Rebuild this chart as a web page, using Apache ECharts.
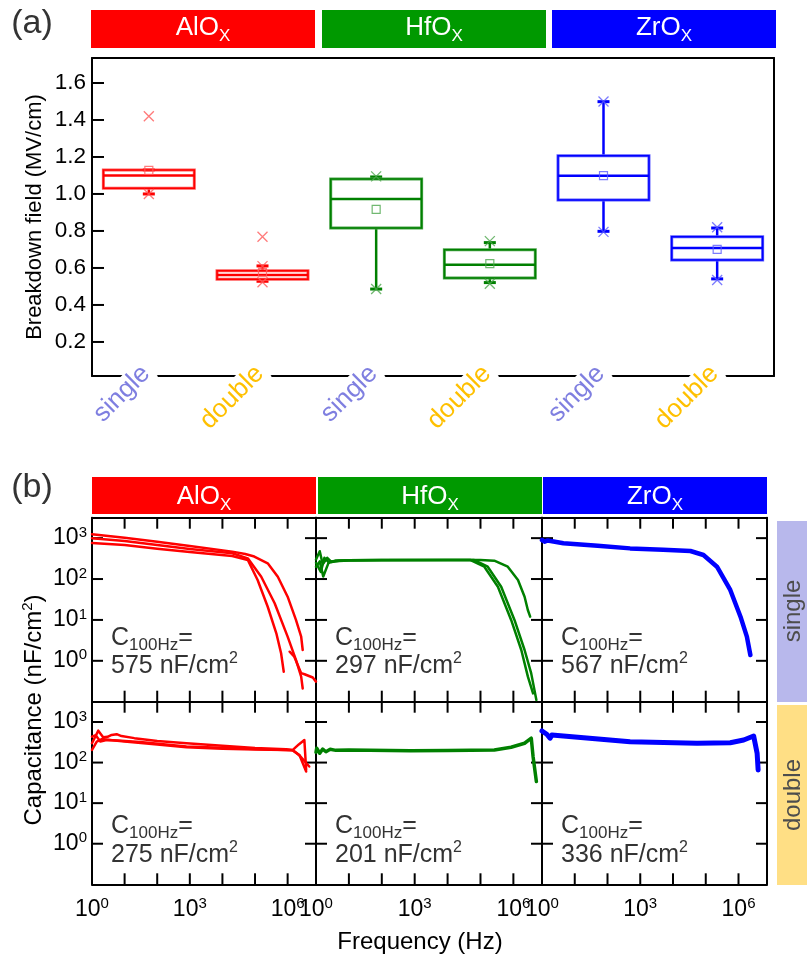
<!DOCTYPE html>
<html><head><meta charset="utf-8">
<script src="https://cdn.jsdelivr.net/npm/echarts@6/dist/echarts.min.js"></script>
<style>html,body{margin:0;padding:0;background:#fff}#c{width:807px;height:957px}</style>
</head><body><div id="c"></div>
<script>
// ---------- Panel (a) data ----------
const categories = ['single', 'double', 'single', 'double', 'single', 'double'];
const boxMin    = [1.000, 0.528, 0.486, 0.521, 0.798, 0.541];
const boxQ1     = [1.031, 0.539, 0.816, 0.546, 0.968, 0.643];
const boxMedian = [1.100, 0.562, 0.973, 0.618, 1.099, 0.708];
const boxQ3     = [1.130, 0.585, 1.081, 0.699, 1.207, 0.769];
const boxMax    = [1.130, 0.611, 1.092, 0.737, 1.499, 0.816];
const boxMean   = [1.128, 0.578, 0.917, 0.623, 1.099, 0.701];
const extremeCat = [0, 0, 1, 1, 1, 2, 2, 3, 3, 4, 4, 5, 5];
const extremeVal = [1.42, 1.00, 0.769, 0.523, 0.61, 1.095, 0.486, 0.745, 0.515, 1.50, 0.795, 0.82, 0.535];
const fieldTicks = [0.2, 0.4, 0.6, 0.8, 1.0, 1.2, 1.4, 1.6];
const materials = ['AlO', 'HfO', 'ZrO'];
const c100Hz = ['575', '297', '567', '275', '201', '336'];

// ---------- Panel (b) data (frequency Hz, capacitance nF/cm2) ----------
const freqTicks = [10, 100, 1e3, 1e4, 1e5, 1e6];
const capTicks = [1, 10, 100, 1000];

const fAlS1 = [1, 10, 100, 1000, 2e4, 5e4, 9.5e4, 2.45e5, 5e5, 1e6, 1.8e6, 2.6e6, 2.9e6];
const cAlS1 = [1250, 1025, 818, 643, 468, 410, 355, 243, 114, 37, 10, 3.9, 1.84];
const fAlS2 = [1, 10, 100, 1000, 2e4, 6e4, 1.55e5, 4e5, 1e6, 1.8e6, 2.6e6, 2.9e6];
const cAlS2 = [1000, 850, 680, 543, 427, 321, 114, 25.5, 3.9, 1.05, 0.41, 0.21];
const fAlS3 = [1, 10, 100, 1000, 2e4, 6e4, 1.2e5, 2.45e5, 4.5e5, 6.3e5, 7.6e5];
const cAlS3 = [760, 680, 552, 458, 366, 292, 95, 21, 4.7, 1.53, 0.54];
const fAlS4 = [1.15e6, 1.6e6, 2.6e6, 3.3e6, 5.9e6, 7.4e6];
const cAlS4 = [1.67, 1.26, 0.5, 0.47, 0.39, 0.31];

const fHfS1 = [1, 1.3, 1.6, 2.2, 3, 5, 10, 100, 1e4, 1e5, 2.63e5, 6.76e5, 1.38e6, 2.19e6, 2.75e6, 3.24e6];
const cHfS1 = [300, 480, 230, 330, 260, 280, 290, 292, 292, 292, 281, 200, 95, 37, 17.5, 12];
const fHfS2 = [1, 1.4, 1.8, 2.5, 4, 10, 100, 1e4, 6.46e4, 1.66e5, 4.26e5, 1.08e6, 2.19e6, 3.47e6, 5e6];
const cHfS2 = [250, 150, 330, 250, 285, 290, 292, 292, 292, 200, 65, 10, 1.84, 0.5, 0.11];
const fHfS3 = [1, 1.3, 1.66, 2.5, 10, 100, 1e4, 5e4, 1.31e5, 3.38e5, 8.55e5, 1.74e6, 2.76e6, 3.96e6];
const cHfS3 = [200, 270, 115, 270, 285, 290, 292, 292, 200, 65, 10, 1.84, 0.41, 0.16];

const fZrS = [1, 1.2, 1.5, 4.5, 50, 490, 5000, 3.4e4, 8.5e4, 2.2e5, 5.6e5, 1.15e6, 1.8e6, 2.3e6];
const cZrS = [900, 820, 880, 750, 650, 562, 520, 485, 387, 200, 54, 12, 3.9, 1.39];

const fAlD1 = [1, 1.56, 2.2, 3, 4, 5.7, 8, 20, 100, 790, 1e4, 1e5, 9e5, 1.44e6, 2.2e6, 3.26e6, 3.7e6];
const cAlD1 = [300, 611, 420, 430, 480, 500, 450, 400, 340, 299, 260, 230, 213, 205, 280, 360, 66];
const fAlD2 = [1, 1.4, 2, 3.55, 10, 100, 790, 1e4, 1e5, 9e5, 1.44e6, 2.3e6, 3.7e6];
const cAlD2 = [205, 330, 380, 360, 330, 280, 238, 220, 210, 204, 200, 154, 60];
const fAlD3 = [1, 1.3, 1.8, 2.8, 6, 30, 790, 1e5, 1.44e6, 2.3e6, 4.6e6];
const cAlD3 = [435, 470, 330, 360, 350, 320, 250, 215, 200, 150, 80];

const fHfD = [1, 1.05, 1.3, 1.6, 2.0, 2.7, 4, 10, 750, 1e4, 2.63e5, 8.5e5, 2.19e6, 3.5e6, 3.97e6, 5e6];
const cHfD = [180, 225, 170, 215, 185, 213, 200, 205, 196, 198, 204, 238, 299, 398, 140, 34];

const fZrD = [1, 1.1, 1.4, 1.76, 2.0, 2.3, 4.5, 490, 5.4e4, 5.6e5, 1.44e6, 2.9e6, 3.7e6, 3.97e6];
const cZrD = [600, 577, 500, 398, 480, 430, 452, 327, 299, 309, 360, 452, 170, 66];

// ---------- styling ----------
const FONT = 'Liberation Sans, Arial, sans-serif';
const boxColor = ['#ff0000', '#ff0000', '#008000', '#008000', '#0000ff', '#0000ff'];
const lightColor = ['#ff5a5a', '#ff5a5a', '#4da64d', '#4da64d', '#5a5aff', '#5a5aff'];
const catLabelColor = { single: '#7f7fe0', double: '#ffc000' };
const headerColor = ['#ff0000', '#009900', '#0000ff'];
const lineColor = ['#ff0000', '#008000', '#0000ff'];

const zip = (f, c) => f.map((v, i) => [v, c[i]]);

const curves = [
  { k: 0, f: fAlS1, c: cAlS1, w: 2.5 }, { k: 0, f: fAlS2, c: cAlS2, w: 2.5 },
  { k: 0, f: fAlS3, c: cAlS3, w: 2.5 }, { k: 0, f: fAlS4, c: cAlS4, w: 2.5 },
  { k: 1, f: fHfS1, c: cHfS1, w: 2.5 }, { k: 1, f: fHfS2, c: cHfS2, w: 2.5 },
  { k: 1, f: fHfS3, c: cHfS3, w: 2.5 },
  { k: 2, f: fZrS, c: cZrS, w: 4.5 },
  { k: 3, f: fAlD1, c: cAlD1, w: 2.5 }, { k: 3, f: fAlD2, c: cAlD2, w: 2.5 },
  { k: 3, f: fAlD3, c: cAlD3, w: 2.5 },
  { k: 4, f: fHfD, c: cHfD, w: 3.5 },
  { k: 5, f: fZrD, c: cZrD, w: 5 }
];

// ---------- layout ----------
const colLeft = [92, 316, 542];
const colWidth = [224, 226, 225];
const rowTop = [517.7, 701.7];
const rowHeight = [184, 182.6];

const grids = [{ left: 92, top: 58, width: 682, height: 318 }];
for (let r = 0; r < 2; r++) for (let c = 0; c < 3; c++)
  grids.push({ left: colLeft[c], top: rowTop[r], width: colWidth[c], height: rowHeight[r] });

function supFmt(v, keep) {
  const e = Math.log10(v);
  const r = Math.round(e);
  if (Math.abs(e - r) > 1e-3 || !keep(r)) return '';
  return '{b|10}{s|' + r + '}';
}
const supRich = {
  b: { fontSize: 23, fontFamily: FONT, color: '#000', lineHeight: 26 },
  s: { fontSize: 15, fontFamily: FONT, color: '#000', verticalAlign: 'top', lineHeight: 15 }
};
const mkLine = () => ({ show: true, onZero: false, lineStyle: { color: '#000', width: 2 } });
const noTick = () => ({ show: false });

const xAxes = [
  {
    type: 'category', gridIndex: 0, position: 'bottom',
    data: categories.map(c => ({ value: c, textStyle: { color: catLabelColor[c] } })),
    axisLine: mkLine(), axisTick: noTick(), splitLine: { show: false },
    axisLabel: { interval: 0, rotate: 45, margin: -9, fontSize: 26, fontFamily: FONT,
      backgroundColor: '#fff', padding: [0, 4, 0, 4] }
  },
  {
    type: 'category', gridIndex: 0, position: 'top', data: categories,
    axisLine: mkLine(), axisTick: noTick(), axisLabel: { show: false }, splitLine: { show: false }
  }
];
const A_MIN = 0.016, A_MAX = 1.735;
const yAxes = [
  {
    type: 'value', gridIndex: 0, position: 'left', min: A_MIN, max: A_MAX, splitNumber: 8,
    axisLine: mkLine(), splitLine: { show: false }, axisTick: noTick(),
    axisLabel: { fontSize: 22.5, fontFamily: FONT, color: '#000', margin: 6,
      showMinLabel: false, showMaxLabel: false, formatter: v => v.toFixed(1) }
  },
  {
    type: 'value', gridIndex: 0, position: 'right', min: A_MIN, max: A_MAX, splitNumber: 8,
    axisLine: mkLine(), axisTick: noTick(), axisLabel: { show: false }, splitLine: { show: false }
  }
];

const X_MIN = 1, X_MAX = Math.pow(10, 6.87);
const Y_MIN = 0.1, Y_MAX = Math.pow(10, 3.5);
for (let k = 0; k < 6; k++) {
  const r = Math.floor(k / 3), c = k % 3;
  const g = k + 1;
  xAxes.push({
    type: 'log', logBase: 10, gridIndex: g, position: 'bottom', min: X_MIN, max: X_MAX,
    axisLine: mkLine(), axisTick: noTick(), splitLine: { show: false }, minorTick: { show: false },
    axisLabel: { show: r === 1, margin: 12, hideOverlap: false,
      formatter: v => supFmt(v, e => e % 3 === 0), rich: supRich }
  });
  xAxes.push({
    type: 'log', logBase: 10, gridIndex: g, position: 'top', min: X_MIN, max: X_MAX,
    axisLine: mkLine(), axisTick: noTick(), splitLine: { show: false }, axisLabel: { show: false }
  });
  yAxes.push({
    type: 'log', logBase: 10, gridIndex: g, position: 'left', min: Y_MIN, max: Y_MAX,
    axisLine: mkLine(), axisTick: noTick(), splitLine: { show: false },
    axisLabel: { show: c === 0, margin: 5, hideOverlap: false,
      formatter: v => supFmt(v, e => e >= 0), rich: supRich }
  });
  yAxes.push({
    type: 'log', logBase: 10, gridIndex: g, position: 'right', min: Y_MIN, max: Y_MAX,
    axisLine: mkLine(), axisTick: noTick(), splitLine: { show: false }, axisLabel: { show: false }
  });
}

// inward tick marks, positioned through the axes' own scales (edges from axis extremes)
function xTickSeries(axisIdx, vals, len) {
  return {
    type: 'custom', xAxisIndex: axisIdx, yAxisIndex: axisIdx, z: 2,
    encode: { x: 0, y: 1 }, data: vals.map(v => [v, 1]),
    renderItem: function (params, api) {
      const v = api.value(0);
      const pb = api.coord([v, Y_MIN]);
      const pt = api.coord([v, Y_MAX]);
      return { type: 'group', children: [
        { type: 'line', shape: { x1: pb[0], y1: pb[1], x2: pb[0], y2: pb[1] - len }, style: { stroke: '#000', lineWidth: 2 } },
        { type: 'line', shape: { x1: pt[0], y1: pt[1], x2: pt[0], y2: pt[1] + len }, style: { stroke: '#000', lineWidth: 2 } }
      ] };
    }
  };
}
function yTickSeries(axisIdx, vals, len) {
  return {
    type: 'custom', xAxisIndex: axisIdx, yAxisIndex: axisIdx, z: 2,
    encode: { x: 0, y: 1 }, data: vals.map(v => [1, v]),
    renderItem: function (params, api) {
      const v = api.value(1);
      const pl = api.coord([X_MIN, v]);
      const pr = api.coord([X_MAX, v]);
      return { type: 'group', children: [
        { type: 'line', shape: { x1: pl[0], y1: pl[1], x2: pl[0] + len, y2: pl[1] }, style: { stroke: '#000', lineWidth: 2 } },
        { type: 'line', shape: { x1: pr[0], y1: pr[1], x2: pr[0] - len, y2: pr[1] }, style: { stroke: '#000', lineWidth: 2 } }
      ] };
    }
  };
}
const fieldTickSeries = {
  type: 'custom', xAxisIndex: 0, yAxisIndex: 0, z: 2,
  encode: { x: 0, y: 1 }, data: fieldTicks.map(v => [0, v]),
  renderItem: function (params, api) {
    const p = api.coord([0, api.value(1)]);
    const x0 = p[0] - api.size([1, 0])[0] / 2;
    return { type: 'line', shape: { x1: x0, y1: p[1], x2: x0 + 12, y2: p[1] }, style: { stroke: '#000', lineWidth: 2 } };
  }
};

const series = [
  {
    type: 'custom', xAxisIndex: 0, yAxisIndex: 0, z: 2,
    encode: { x: 0, y: [1, 2, 3, 4, 5] },
    data: categories.map((_, i) => [i, boxMin[i], boxQ1[i], boxMedian[i], boxQ3[i], boxMax[i]]),
    renderItem: function (params, api) {
      const i = params.dataIndex;
      const x = api.coord([i, 1])[0];
      const y = v => api.coord([i, v])[1];
      const yMin = y(api.value(1)), yQ1 = y(api.value(2)), yMed = y(api.value(3)),
            yQ3 = y(api.value(4)), yMax = y(api.value(5));
      const hw = api.size([1, 0])[0] * 0.4;
      const col = boxColor[i], cap = 6;
      const ls = { stroke: col, lineWidth: 2.5, fill: null };
      return {
        type: 'group', children: [
          { type: 'line', shape: { x1: x, y1: yMax, x2: x, y2: yQ3 }, style: ls },
          { type: 'line', shape: { x1: x, y1: yQ1, x2: x, y2: yMin }, style: ls },
          { type: 'line', shape: { x1: x - cap, y1: yMax, x2: x + cap, y2: yMax }, style: { stroke: col, lineWidth: 3 } },
          { type: 'line', shape: { x1: x - cap, y1: yMin, x2: x + cap, y2: yMin }, style: { stroke: col, lineWidth: 3 } },
          { type: 'rect', shape: { x: x - hw, y: yQ3, width: 2 * hw, height: yQ1 - yQ3 },
            style: { stroke: lightColor[i], lineWidth: 3, fill: null } },
          { type: 'rect', shape: { x: x - hw, y: yQ3, width: 2 * hw, height: yQ1 - yQ3 },
            style: { stroke: col, lineWidth: 1.5, fill: null } },
          { type: 'line', shape: { x1: x - hw, y1: yMed, x2: x + hw, y2: yMed }, style: ls }
        ]
      };
    }
  },
  {
    type: 'scatter', xAxisIndex: 0, yAxisIndex: 0, z: 3, symbol: 'rect', symbolSize: 8,
    data: categories.map((_, i) => ({ value: [i, boxMean[i]],
      itemStyle: { color: 'rgba(255,255,255,0)', borderColor: lightColor[i], borderWidth: 1.2 } }))
  },
  {
    type: 'scatter', xAxisIndex: 0, yAxisIndex: 0, z: 3, symbol: 'path://M0 0L10 10M10 0L0 10', symbolSize: 10,
    data: extremeVal.map((v, j) => ({ value: [extremeCat[j], v],
      itemStyle: { color: 'rgba(255,255,255,0)', borderColor: lightColor[extremeCat[j]], borderWidth: 1.3 } }))
  },
  fieldTickSeries
];
for (let k = 0; k < 6; k++) {
  series.push(xTickSeries(2 + 2 * k, freqTicks, 11));
  series.push(yTickSeries(2 + 2 * k, capTicks, 11));
}
curves.forEach(cv => {
  series.push({
    type: 'line', xAxisIndex: 2 + 2 * cv.k, yAxisIndex: 2 + 2 * cv.k,
    data: zip(cv.f, cv.c), showSymbol: false, symbol: 'none', clip: true,
    lineStyle: { color: lineColor[cv.k % 3], width: cv.w, join: 'round', cap: 'round' }
  });
});

// ---------- graphics (headers, titles, annotations) ----------
const graphic = [];
function txt(x, y, text, rich, opts) {
  return Object.assign({
    type: 'text', x: x, y: y, z: 100,
    style: { text: text, rich: rich, align: 'center', verticalAlign: 'middle',
      textAlign: 'center', textVerticalAlign: 'middle', fontFamily: FONT }
  }, opts || {});
}
const headRich = {
  a: { fontSize: 26, fontFamily: FONT, fill: '#fff', color: '#fff', lineHeight: 34 },
  b: { fontSize: 17, fontFamily: FONT, fill: '#fff', color: '#fff', verticalAlign: 'bottom', lineHeight: 17 }
};
const headA = [[91, 315], [322, 546], [552, 776]];
const headB = [[92, 316], [318, 542], [543, 767]];
for (let m = 0; m < 3; m++) {
  graphic.push({ type: 'rect', shape: { x: headA[m][0], y: 10, width: headA[m][1] - headA[m][0], height: 38 },
    style: { fill: headerColor[m] }, z: 99 });
  graphic.push(txt((headA[m][0] + headA[m][1]) / 2, 28, '{a|' + materials[m] + '}{b|X}', headRich));
  graphic.push({ type: 'rect', shape: { x: headB[m][0], y: 477, width: headB[m][1] - headB[m][0], height: 37 },
    style: { fill: headerColor[m] }, z: 99 });
  graphic.push(txt((headB[m][0] + headB[m][1]) / 2, 497, '{a|' + materials[m] + '}{b|X}', headRich));
}
const plainRich = (size, color) => ({ t: { fontSize: size, fontFamily: FONT, fill: color, color: color } });
graphic.push(txt(32, 24, '{t|(a)}', plainRich(34, '#333')));
graphic.push(txt(32, 488, '{t|(b)}', plainRich(34, '#333')));
graphic.push(txt(35, 217, '{t|Breakdown field (MV/cm)}', plainRich(22, '#000'), { rotation: Math.PI / 2 }));
const capRich = {
  t: { fontSize: 24, fontFamily: FONT, fill: '#000', color: '#000', lineHeight: 28 },
  s: { fontSize: 15, fontFamily: FONT, fill: '#000', color: '#000', verticalAlign: 'top', lineHeight: 15 }
};
graphic.push(txt(34, 710, '{t|Capacitance (nF/cm}{s|2}{t|)}', capRich, { rotation: Math.PI / 2 }));
graphic.push(txt(420, 942, '{t|Frequency (Hz)}', plainRich(24, '#000')));
// side labels
graphic.push({ type: 'rect', shape: { x: 777, y: 521, width: 30, height: 181 }, style: { fill: '#b8b8ec' }, z: 99 });
graphic.push({ type: 'rect', shape: { x: 777, y: 705, width: 30, height: 180 }, style: { fill: '#ffdf85' }, z: 99 });
graphic.push(txt(793, 611, '{t|single}', plainRich(24, '#4d4d4d'), { rotation: Math.PI / 2 }));
graphic.push(txt(793, 795, '{t|double}', plainRich(24, '#4d4d4d'), { rotation: Math.PI / 2 }));
// annotations
const annRich = {
  c: { fontSize: 25, fontFamily: FONT, fill: '#333', color: '#333', lineHeight: 31 },
  s: { fontSize: 17, fontFamily: FONT, fill: '#333', color: '#333', verticalAlign: 'bottom', lineHeight: 17 },
  p: { fontSize: 16, fontFamily: FONT, fill: '#333', color: '#333', verticalAlign: 'top', lineHeight: 16 }
};
const annLine1 = [638, 826];
const annLine2 = [666, 855];
for (let k = 0; k < 6; k++) {
  const r = Math.floor(k / 3), c = k % 3;
  const x = colLeft[c] + 19;
  graphic.push(Object.assign(txt(x, annLine1[r], '', annRich),
    { style: { text: '{c|C}{s|100Hz}{c|=}', rich: annRich, align: 'left', textAlign: 'left',
      verticalAlign: 'middle', textVerticalAlign: 'middle' } }));
  graphic.push(Object.assign(txt(x, annLine2[r], '', annRich),
    { style: { text: '{c|' + c100Hz[k] + ' nF/cm}{p|2}', rich: annRich, align: 'left', textAlign: 'left',
      verticalAlign: 'middle', textVerticalAlign: 'middle' } }));
}

const chart = echarts.init(document.getElementById('c'), null, { renderer: 'canvas' });
chart.setOption({
  animation: false,
  backgroundColor: '#fff',
  textStyle: { fontFamily: FONT },
  grid: grids,
  xAxis: xAxes,
  yAxis: yAxes,
  series: series,
  graphic: { elements: graphic }
});
</script></body></html>
